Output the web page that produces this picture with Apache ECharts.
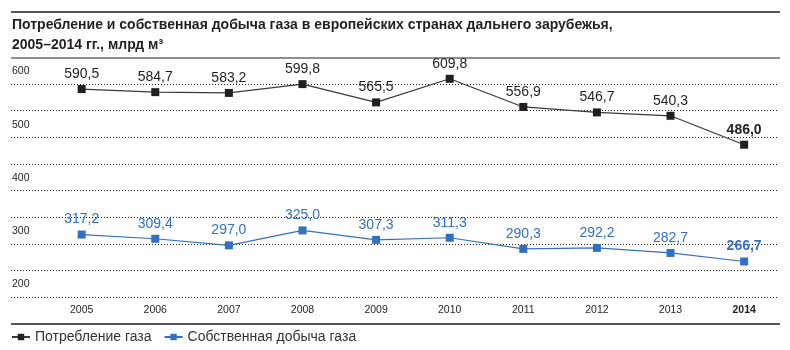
<!DOCTYPE html>
<html>
<head>
<meta charset="utf-8">
<script src="https://cdn.jsdelivr.net/npm/echarts@6/dist/echarts.min.js"></script>
<style>
    html, body { margin: 0; padding: 0; background: #fff; }
    #chart { width: 790px; height: 350px; }
</style>
</head>
<body>
<div id="chart"></div>
<script>
const years = [2005, 2006, 2007, 2008, 2009, 2010, 2011, 2012, 2013, 2014]
const consumption = [590.5, 584.7, 583.2, 599.8, 565.5, 609.8, 556.9, 546.7, 540.3, 486.0]
const production = [317.2, 309.4, 297.0, 325.0, 307.3, 311.3, 290.3, 292.2, 282.7, 266.7]
const yTicks = [200, 300, 400, 500, 600]

const DARK = '#231f20'
const BLUE = '#3470c0'
const FONT = '"Liberation Sans", Arial, sans-serif'

const fmt = v => v.toFixed(1).replace('.', ',')
const lastYear = years[years.length - 1]

// last point of each series gets a bold label
const toPoints = (values) => values.map((v, i) => {
    const item = { value: [years[i], v] }
    if (i === values.length - 1) {
        item.label = { fontWeight: 'bold' }
    }
    return item
})

const chart = echarts.init(document.getElementById('chart'))

const hline = (y, w) => ({
    type: 'line',
    shape: { x1: 11, y1: y, x2: 780, y2: y },
    style: { stroke: DARK, lineWidth: w }
})

const option = {
    animation: false,
    textStyle: { fontFamily: FONT },
    title: {
        text: 'Потребление и собственная добыча газа в европейских странах дальнего зарубежья,\n2005–2014 гг., млрд м³',
        left: 12,
        top: 15,
        padding: 0,
        textStyle: {
            fontFamily: FONT,
            fontSize: 14,
            fontWeight: 'bold',
            color: DARK,
            lineHeight: 20
        }
    },
    graphic: [hline(12, 1.5), hline(58, 1.2), hline(324, 1.5)],
    legend: {
        left: 11,
        top: 330,
        padding: 0,
        itemWidth: 18,
        itemHeight: 8,
        itemGap: 12,
        textStyle: { fontFamily: FONT, fontSize: 14, color: '#333' },
        data: ['Потребление газа', 'Собственная добыча газа']
    },
    grid: {
        left: 11,
        right: 12,
        top: 84,
        bottom: 53
    },
    xAxis: {
        type: 'value',
        min: 2004.04,
        max: 2014.46,
        axisLine: { show: false },
        axisTick: { show: false },
        splitLine: { show: false },
        axisLabel: {
            customValues: years,
            margin: 8,
            fontSize: 10.5,
            color: DARK,
            formatter: v => (v === lastYear ? '{b|' + v + '}' : String(v)),
            rich: {
                b: { fontSize: 10.5, fontWeight: 'bold', color: DARK }
            }
        }
    },
    yAxis: {
        type: 'value',
        min: 200,
        max: 600,
        interval: 50,
        axisLine: { show: false },
        axisTick: { show: false },
        splitLine: {
            lineStyle: { color: DARK, type: [1, 2], width: 1 }
        },
        axisLabel: {
            inside: true,
            margin: 1,
            align: 'left',
            verticalAlign: 'bottom',
            padding: [0, 0, 7, 0],
            fontSize: 10.5,
            color: DARK,
            formatter: v => (yTicks.includes(v) ? String(v) : '')
        }
    },
    series: [
        {
            name: 'Потребление газа',
            type: 'line',
            clip: false,
            symbol: 'rect',
            symbolSize: 8,
            color: DARK,
            lineStyle: { color: '#3a3a3a', width: 1.2 },
            label: {
                show: true,
                position: 'top',
                distance: 4,
                fontSize: 14,
                color: DARK,
                formatter: p => fmt(p.value[1])
            },
            data: toPoints(consumption)
        },
        {
            name: 'Собственная добыча газа',
            type: 'line',
            clip: false,
            symbol: 'rect',
            symbolSize: 8,
            color: BLUE,
            lineStyle: { color: BLUE, width: 1.2 },
            label: {
                show: true,
                position: 'top',
                distance: 4,
                fontSize: 14,
                color: BLUE,
                formatter: p => fmt(p.value[1])
            },
            data: toPoints(production)
        }
    ]
}

chart.setOption(option)
</script>
</body>
</html>
